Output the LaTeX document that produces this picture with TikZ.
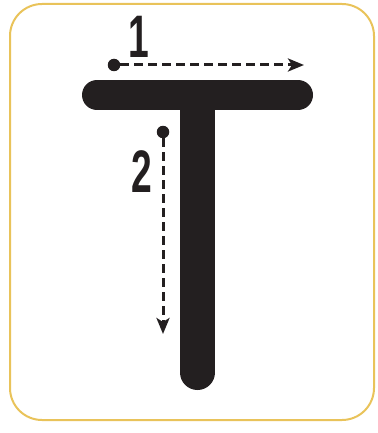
\documentclass[tikz,border=0pt]{standalone}
\usepackage{fontspec}
\setmainfont{Liberation Sans}
\usetikzlibrary{arrows.meta}
\definecolor{frame}{HTML}{E9C35A}
\definecolor{ink}{HTML}{231F20}
\tikzset{
  stroke/.style={line width=#1, line cap=round, draw=ink},
  startdot/.style={circle, fill=ink, inner sep=0pt, minimum size=12.5pt},
  guide/.style={draw=ink, line width=3pt, dash pattern=on 9pt off 5pt, -{Stealth[length=16pt,width=13pt,inset=4pt]}},
  digit/.style={inner sep=0pt, font=\fontsize{60}{60}\selectfont\bfseries, text=ink, xscale=0.62}
}
\begin{document}
\begin{tikzpicture}[x=1pt,y=-1pt]
\useasboundingbox (0,0) rectangle (377,433);
\draw[frame, line width=2pt, rounded corners=32pt] (10,4) rectangle (374,420);
% T letter
\draw[stroke=35pt] (197.5,100) -- (197.5,372.5);
\draw[stroke=30pt] (97,95) -- (298,95);
% stroke 1
\node[startdot] (d1) at (114,65) {};
\coordinate (e1) at (304,65);
\draw[guide] (d1.east) -- (e1);
\node[digit, anchor=south] (n1) at (138.5,58) {1};
% stroke 2
\node[startdot] (d2) at (163,132) {};
\coordinate (e2) at (163,334);
\draw[guide] (d2.south) -- (e2);
\node[digit, anchor=south] (n2) at (141.5,192.5) {2};
\end{tikzpicture}
\end{document}
